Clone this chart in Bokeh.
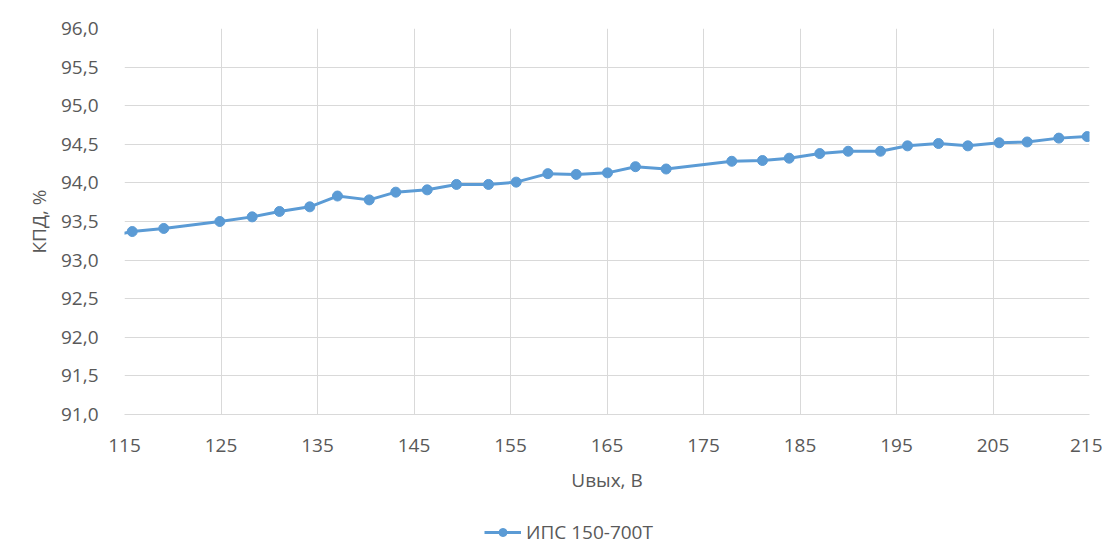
from bokeh.plotting import figure
from bokeh.layouts import column
from bokeh.models import FixedTicker, CustomJSTickFormatter, Legend, LegendItem, Range1d
from bokeh.embed import file_html
from bokeh.resources import INLINE

# Data
u_out = [112.6, 115.8, 119.07, 124.88, 128.23, 131.06, 134.2, 137.07, 140.36, 143.11,
         146.37, 149.4, 152.72, 155.59, 158.87, 161.81, 165.05, 167.95, 171.13,
         177.93, 181.11, 183.88, 187.05, 189.99, 193.34, 196.14, 199.35, 202.39,
         205.64, 208.54, 211.82, 214.76]
efficiency = [93.29, 93.37, 93.41, 93.50, 93.56, 93.63, 93.69, 93.83, 93.78, 93.88,
              93.91, 93.98, 93.98, 94.01, 94.12, 94.11, 94.13, 94.21, 94.18,
              94.28, 94.29, 94.32, 94.38, 94.41, 94.41, 94.48, 94.51, 94.48,
              94.52, 94.53, 94.58, 94.60]
x_ticks = [115, 125, 135, 145, 155, 165, 175, 185, 195, 205, 215]
y_ticks = [91.0, 91.5, 92.0, 92.5, 93.0, 93.5, 94.0, 94.5, 95.0, 95.5, 96.0]
series_name = "ИПС 150-700Т"
x_title = "Uвых, В"
y_title = "КПД, %"

FONT = "Open Sans"
TXT = "#595959"
GRID = "#D9D9D9"
BLUE = "#5B9BD5"

p = figure(frame_width=965, frame_height=386, output_backend="svg", toolbar_location=None,
           x_range=Range1d(115, 215), y_range=Range1d(91, 96),
           min_border_left=124, min_border_right=13, min_border_top=28, min_border_bottom=0)
p.outline_line_color = None
p.background_fill_color = "white"
p.border_fill_color = "white"

p.line(u_out, efficiency, line_color=BLUE, line_width=3)
p.scatter(u_out, efficiency, size=10, fill_color=BLUE, line_color=BLUE)

p.xaxis.ticker = FixedTicker(ticks=x_ticks)
p.yaxis.ticker = FixedTicker(ticks=y_ticks)
p.yaxis.formatter = CustomJSTickFormatter(code="return tick.toFixed(1).replace('.', ',');")

for ax in (p.xaxis[0], p.yaxis[0]):
    ax.major_tick_line_color = None
    ax.minor_tick_line_color = None
    ax.major_label_text_font = FONT
    ax.major_label_text_font_size = "19px"
    ax.major_label_text_color = TXT
    ax.axis_label_text_font = FONT
    ax.axis_label_text_font_size = "19px"
    ax.axis_label_text_color = TXT
    ax.axis_label_text_font_style = "normal"
    ax.axis_line_color = GRID

p.yaxis.axis_line_color = None
p.xaxis.major_label_standoff = 18
p.yaxis.major_label_standoff = 20
p.xaxis.axis_label = x_title
p.yaxis.axis_label = y_title
p.xaxis.axis_label_standoff = 12
p.yaxis.axis_label_standoff = 6

p.xgrid.grid_line_color = GRID
p.ygrid.grid_line_color = GRID

# Legend strip below the chart (same series, drawn outside its visible range)
lg = figure(width=1102, height=52, output_backend="svg", toolbar_location=None,
            x_range=Range1d(0, 1), y_range=Range1d(0, 1),
            min_border_left=0, min_border_right=0, min_border_top=0, min_border_bottom=0)
lg.axis.visible = False
lg.grid.visible = False
lg.outline_line_color = None
lg.border_fill_color = "white"
l_line = lg.line(u_out, efficiency, line_color=BLUE, line_width=3)
l_pts = lg.scatter(u_out, efficiency, size=11, fill_color=BLUE, line_color=BLUE)
legend = Legend(items=[LegendItem(label=series_name, renderers=[l_line, l_pts], index=0)],
                orientation="horizontal", location=(360, 2),
                label_text_font=FONT, label_text_font_size="19px", label_text_color=TXT,
                glyph_width=37, glyph_height=20, border_line_color=None,
                background_fill_alpha=0, margin=0, padding=2, label_standoff=5)
lg.add_layout(legend, "center")

layout = column(p, lg, spacing=0)
open("out.html", "w").write(file_html(layout, INLINE))
